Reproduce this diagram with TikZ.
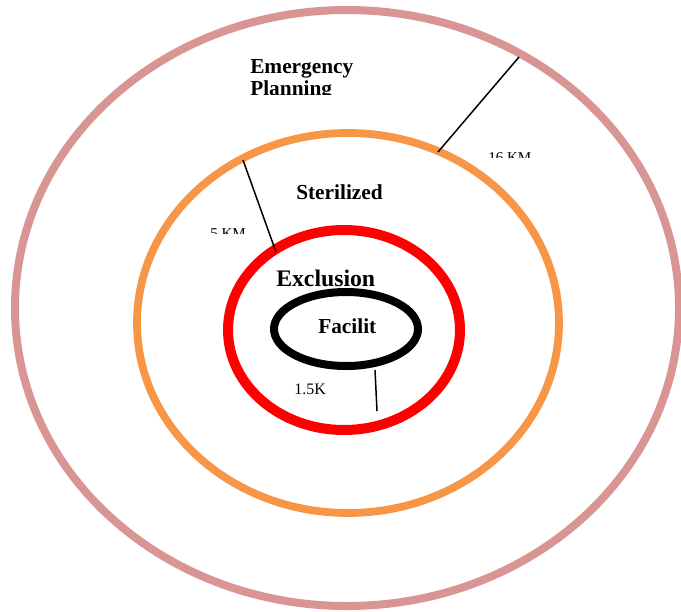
\documentclass[tikz,border=0pt]{standalone}
\usepackage{fontspec}
\setmainfont{Liberation Serif}
\begin{document}
\begin{tikzpicture}[x=0.75pt,y=-0.75pt,
  ring/.style={line width=#1*0.75pt},
  lbl/.style={inner sep=0pt,anchor=base west,font=\bfseries\fontsize{16}{18}\selectfont},
  dist/.style={inner sep=0pt,anchor=base west,font=\fontsize{11.3}{13}\selectfont},
  leader/.style={black,line width=1.5pt*0.75}]
\useasboundingbox (0,0) rectangle (681,611);
\definecolor{rose}{HTML}{D99594}
\definecolor{orng}{HTML}{F79646}
\definecolor{redr}{HTML}{FF0000}
% rings
\draw[rose,ring=8] (347,308) ellipse [x radius=332,y radius=298];
\draw[orng,ring=7.8] (348,323) ellipse [x radius=211,y radius=190];
\draw[redr,ring=10] (344,330) ellipse [x radius=116,y radius=100];
\draw[black,ring=8] (346,329) ellipse [x radius=72,y radius=37];
% white box of the 1.5K label, cutting into the red ring
\fill[white] (274,378) rectangle (330,402.5);
% leader ends
\coordinate (a1) at (519,57);
\coordinate (a2) at (438,152);
\coordinate (b1) at (243,160);
\coordinate (b2) at (276,252);
\coordinate (c1) at (375,370);
\coordinate (c2) at (377,411);
\draw[leader] (a1) -- (a2);
\draw[leader] (b1) -- (b2);
\draw[leader] (c1) -- (c2);
% labels
\node[lbl] (em) at (250,73) {Emergency};
\begin{scope}
\clip (240,78) rectangle (370,94);
\node[lbl] (pl) at (250,95) {Planning};
\end{scope}
\node[lbl] (st) at (296,199) {Sterilized};
\node[lbl,font=\bfseries\fontsize{17.8}{20}\selectfont] (ex) at (276,286) {Exclusion};
\node[lbl] (fa) at (318,333) {Facilit};
\node[dist,font=\fontsize{12}{14}\selectfont] (k15) at (294,394) {1.5K};
\begin{scope}
\clip (480,140) rectangle (540,157);
\node[dist] (k16) at (488,162) {16 KM};
\end{scope}
\begin{scope}
\clip (200,215) rectangle (250,233);
\node[dist] (k5) at (210,238) {5 KM};
\end{scope}
\end{tikzpicture}
\end{document}
